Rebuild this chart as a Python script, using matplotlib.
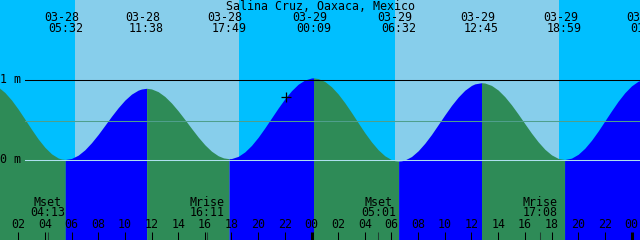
import matplotlib
matplotlib.use("Agg")
import matplotlib.pyplot as plt
import matplotlib.transforms as mtransforms

# ---------------- data ----------------
title = "Salina Cruz, Oaxaca, Mexico"

# hours since 03-28 00:00, tide height (m)
hours = [0, 0.5, 1, 1.5, 2, 2.5, 3, 3.5, 4, 4.5, 5, 5.25, 5.533,
         6, 6.5, 7, 7.5, 8, 8.5, 9, 9.5, 10, 10.5, 11, 11.25, 11.633,
         12, 12.5, 13, 13.5, 14, 14.5, 15, 15.5, 16, 16.5, 17, 17.4, 17.817,
         18, 18.5, 19, 19.5, 20, 20.5, 21, 21.5, 22, 22.5, 23, 23.5, 24, 24.15,
         24.5, 25, 25.5, 26, 26.5, 27, 27.5, 28, 28.5, 29, 29.5, 30, 30.25, 30.533,
         30.75, 31, 31.5, 32, 32.5, 33, 33.5, 34, 34.5, 35, 35.5, 36, 36.25, 36.75,
         37, 37.5, 38, 38.5, 39, 39.5, 40, 40.5, 41, 41.5, 42, 42.5, 42.983,
         43, 43.5, 44, 44.5, 45, 45.5, 46, 46.5, 47, 47.5, 48, 48.5, 49, 49.2]
heights = [0.944, 0.907, 0.838, 0.744, 0.630, 0.505, 0.378, 0.257, 0.153, 0.071, 0.019, 0.006, 0.0,
           0.013, 0.054, 0.121, 0.210, 0.313, 0.426, 0.540, 0.647, 0.742, 0.817, 0.867, 0.881, 0.89,
           0.882, 0.848, 0.788, 0.706, 0.608, 0.500, 0.389, 0.281, 0.184, 0.104, 0.047, 0.020, 0.01,
           0.012, 0.039, 0.095, 0.176, 0.278, 0.395, 0.519, 0.643, 0.759, 0.860, 0.941, 0.994, 1.019, 1.02,
           1.012, 0.975, 0.909, 0.819, 0.709, 0.587, 0.459, 0.334, 0.220, 0.122, 0.046, -0.002, -0.015, -0.02,
           -0.017, -0.006, 0.037, 0.109, 0.203, 0.313, 0.435, 0.558, 0.676, 0.780, 0.866, 0.926, 0.945, 0.96,
           0.956, 0.926, 0.868, 0.785, 0.683, 0.568, 0.448, 0.329, 0.221, 0.128, 0.058, 0.014, 0.0,
           0.0, 0.017, 0.065, 0.141, 0.240, 0.356, 0.482, 0.608, 0.729, 0.835, 0.920, 0.979, 1.007, 1.01]

event_hours = [5.533, 11.633, 17.817, 24.15, 30.533, 36.75, 42.983, 49.2]
event_dates = ["03-28", "03-28", "03-28", "03-29", "03-29", "03-29", "03-29", "03-30"]
event_times = ["05:32", "11:38", "17:49", "00:09", "06:32", "12:45", "18:59", "01:12"]

sunrise_hours = [6.27, 30.27]
sunset_hours = [18.57, 42.57]

moon_hours = [4.217, 16.183, 29.017, 41.133]
moon_kinds = ["Mset", "Mrise", "Mset", "Mrise"]
moon_times = ["04:13", "16:11", "05:01", "17:08"]

tick_hours = list(range(2, 49, 2))
tick_labels = ["%02d" % (h % 24) for h in tick_hours]

now_hour, now_height = 22.09, 0.78
mean_level = 0.4875
level_labels = ["1 m", "0 m"]
level_values = [1.0, 0.0]

# ---------------- style ----------------
NIGHT = "#00BFFF"
DAY = "#87CEEB"
RISE = "#0000FF"
FALL = "#2E8B57"
MEAN_C = "#4f9f8c"
DATUM_C = "#aee0f0"
FONT = "DejaVu Sans Mono"
FS = 8.4

W, H = 640, 240
fig = plt.figure(figsize=(6.4, 2.4), dpi=100)
ax = fig.add_axes([0, 0, 1, 1])
ax.set_axis_off()
px_per_h = 320 / 24.0
x0 = 8.5 / px_per_h
ax.set_xlim(x0, x0 + W / px_per_h)
ax.set_ylim(-1.00625, 1.99375)
fig.patch.set_facecolor(NIGHT)
ax.add_patch(plt.Rectangle((0, 0), 1, 1, transform=ax.transAxes, color=NIGHT, zorder=0))

for sr, ss in zip(sunrise_hours, sunset_hours):
    ax.axvspan(sr, ss, color=DAY, zorder=1, lw=0)

# tide fill segments (blue rising, green falling)
bottom = -1.1
bounds = [hours[0]] + event_hours
for i in range(len(bounds) - 1):
    a, b = bounds[i], bounds[i + 1]
    seg = [(t, h) for t, h in zip(hours, heights) if a <= t <= b]
    ts = [s[0] for s in seg]
    hs = [s[1] for s in seg]
    rising = hs[-1] > hs[0]
    ax.fill_between(ts, hs, bottom, color=RISE if rising else FALL, lw=0,
                    zorder=2, antialiased=False)

xmin_frac = 25 / W
ax.axhline(mean_level, xmin=xmin_frac, color=MEAN_C, lw=0.75, zorder=3)
ax.axhline(level_values[1], xmin=xmin_frac, color=DATUM_C, lw=0.75, zorder=3)
ax.axhline(level_values[0], xmin=xmin_frac, color="black", lw=0.75, zorder=3)

tr = mtransforms.blended_transform_factory(ax.transData, ax.transAxes)
tra = ax.transAxes

def yf(ytop):
    return 1 - ytop / H

for lab, v in zip(level_labels, level_values):
    ax.text(0.5 / W, yf(159.5 - v * 80), lab, transform=tra, ha="left", va="center",
            family=FONT, fontsize=FS, zorder=5)

ax.text(0.5, yf(6), title, transform=tra, ha="center", va="center",
        family=FONT, fontsize=FS, zorder=5)

for t, d, s in zip(event_hours, event_dates, event_times):
    ax.text(t - 4 / px_per_h, yf(17.5), d, transform=tr, ha="center", va="center",
            family=FONT, fontsize=FS, zorder=5)
    ax.text(t, yf(29), s, transform=tr, ha="center", va="center",
            family=FONT, fontsize=FS, zorder=5)

for t, k, s in zip(moon_hours, moon_kinds, moon_times):
    ax.text(t, yf(202), k, transform=tr, ha="center", va="center",
            family=FONT, fontsize=FS, zorder=5)
    ax.text(t, yf(213), s, transform=tr, ha="center", va="center",
            family=FONT, fontsize=FS, zorder=5)
    ax.plot([t, t], [0, 8 / H], transform=tr, color="#1f3f30", lw=0.75, zorder=4,
            solid_capstyle="butt")

for t, lab in zip(tick_hours, tick_labels):
    ax.text(t, yf(225), lab, transform=tr, ha="center", va="center",
            family=FONT, fontsize=FS, zorder=5)
    lw = 2.2 if t % 24 == 0 else 0.75
    ax.plot([t, t], [0, 8 / H], transform=tr, color="black", lw=lw, zorder=4,
            solid_capstyle="butt")

ax.plot([now_hour], [now_height], marker="+", color="black", markersize=7,
        markeredgewidth=0.9, zorder=6)

fig.savefig("out.png", dpi=100, facecolor=NIGHT)
